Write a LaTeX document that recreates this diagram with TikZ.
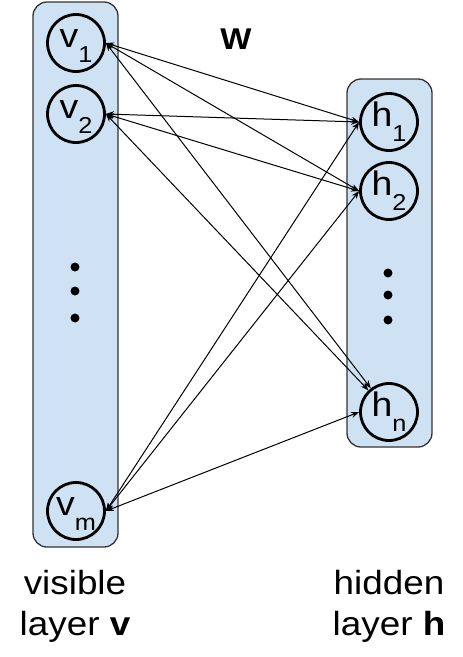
\documentclass[tikz,border=0pt]{standalone}
\usepackage{fontspec}
\setmainfont{Liberation Sans}
\usetikzlibrary{arrows.meta}
\definecolor{layerfill}{HTML}{CFE2F3}
\definecolor{layerdraw}{HTML}{333333}
\newcommand\wide[1]{\scalebox{1.1}[1]{#1}}
\newcommand\unitlbl[2]{\rule{0pt}{23pt}\wide{\fontsize{34}{34}\selectfont #1}\raisebox{-15pt}{\wide{\fontsize{23}{23}\selectfont #2}}}
\begin{document}
\begin{tikzpicture}[x=1pt,y=-1pt,
  layerbox/.style={draw=layerdraw, fill=layerfill, line width=1.3pt, rounded corners=14pt, rectangle, inner sep=0pt},
  unit/.style={circle, draw=black, line width=2.8pt, minimum size=57pt, inner sep=0pt},
  link/.style={{Stealth[length=8pt,width=6pt]}-{Stealth[length=8pt,width=6pt]}, line width=1pt},
  dotmark/.style={circle, fill=black, minimum size=9pt, inner sep=0pt},
  caption/.style={align=center, font=\fontsize{33.5}{41}\selectfont, inner sep=0pt}]
\useasboundingbox (0,0) rectangle (463,657);
% layers
\node[layerbox, minimum width=85pt, minimum height=545pt] (vlayer) at (75.5,274.5) {};
\node[layerbox, minimum width=85pt, minimum height=368pt] (hlayer) at (389.5,263) {};
% units
\node[unit] (v1) at (76,43) {\unitlbl{v}{1}};
\node[unit] (v2) at (76,114) {\unitlbl{v}{2}};
\node[unit] (vm) at (76,511) {\unitlbl{v}{m}};
\node[unit] (h1) at (389,122) {\unitlbl{h}{1}};
\node[unit] (h2) at (389,191) {\unitlbl{h}{2}};
\node[unit] (hn) at (389,412) {\unitlbl{h}{n}};
% dots
\node[dotmark] (vd1) at (75,267) {};
\node[dotmark] (vd2) at (75,291) {};
\node[dotmark] (vd3) at (75,318) {};
\node[dotmark] (hd1) at (388,273) {};
\node[dotmark] (hd2) at (388,295) {};
\node[dotmark] (hd3) at (388,320) {};
% weights
\draw[link] (v1.east) -- (h1.west);
\draw[link] (v1.east) -- (h2.west);
\draw[link] (v1.east) -- (hn);
\draw[link] (v2.east) -- (h1.west);
\draw[link] (v2.east) -- (h2.west);
\draw[link] (v2.east) -- (hn);
\draw[link] (vm.east) -- (h1.west);
\draw[link] (vm.east) -- (h2.west);
\draw[link] (vm.east) -- (hn.west);
% labels
\node[font=\fontsize{30}{30}\selectfont\bfseries, anchor=base, inner sep=0pt] (wlbl) at (236,49) {\wide{W}};
\node[caption] (vcap) at (75,606) {\wide{visible}\\\wide{layer \textbf{v}}};
\node[caption] (hcap) at (389,606) {\wide{hidden}\\\wide{layer \textbf{h}}};
\end{tikzpicture}
\end{document}
